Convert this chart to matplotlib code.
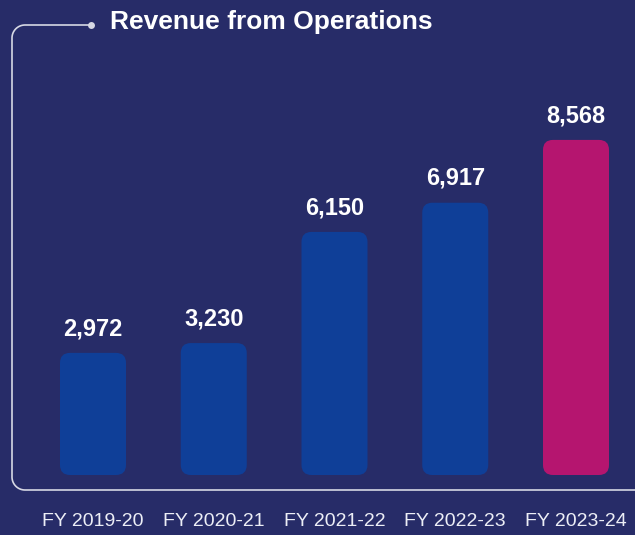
#!/usr/bin/env python3
"""Revenue from Operations bar chart (FY 2019-20 to FY 2023-24)."""

import matplotlib
matplotlib.use("Agg")
import matplotlib.pyplot as plt
import numpy as np
from matplotlib.patches import FancyBboxPatch

plt.rcParams["font.family"] = ["Liberation Sans", "DejaVu Sans"]

years = ["FY 2019-20", "FY 2020-21", "FY 2021-22", "FY 2022-23", "FY 2023-24"]
revenue = [2972, 3230, 6150, 6917, 8568]
value_labels = ["2,972", "3,230", "6,150", "6,917", "8,568"]
highlight = "FY 2023-24"

BG = "#272c68"
BLUE = "#0f3f98"
MAGENTA = "#b5156f"
LINE = "#d6d8e4"

W, H = 635, 535
fig = plt.figure(figsize=(W / 100, H / 100), dpi=100, facecolor=BG)

# bar axes: bars start at pixel row 475, value zero sits a little higher
base_px = 475
zero_px = 466
ax = fig.add_axes([0, (H - base_px) / H, 1, base_px / H])
ax.set_facecolor("none")
px_per_x = 120.75
px_per_y = 0.03806
y_bottom = -(base_px - zero_px) / px_per_y
ax.set_xlim(-93 / px_per_x, 4 + (W - 576) / px_per_x)
ax.set_ylim(y_bottom, y_bottom + base_px / px_per_y)
ax.axis("off")

bar_w = 66 / px_per_x
aspect = (1 / px_per_y) / (1 / px_per_x)
for i, (yr, val, lab) in enumerate(zip(years, revenue, value_labels)):
    color = MAGENTA if yr == highlight else BLUE
    ax.add_patch(FancyBboxPatch((i - bar_w / 2, y_bottom), bar_w, val - y_bottom,
                                boxstyle=f"round,pad=0,rounding_size={10 / px_per_x}",
                                mutation_aspect=aspect, facecolor=color, edgecolor="none"))
    ax.annotate(lab, (i, val), xytext=(0, 17.5), textcoords="offset points",
                ha="center", va="center", color="white", fontsize=17, fontweight="bold")

# overlay in pixel coordinates for the frame, title and year labels
ov = fig.add_axes([0, 0, 1, 1])
ov.set_xlim(0, W)
ov.set_ylim(H, 0)
ov.axis("off")
ov.patch.set_alpha(0)

r = 13
t = np.linspace(0, np.pi / 2, 20)
xs = [91, 12 + r]
ys = [25, 25]
xs += list(12 + r - r * np.sin(t))
ys += list(25 + r - r * np.cos(t))
xs += [12, 12]
ys += [25 + r, 490 - r]
xs += list(12 + r - r * np.cos(t))
ys += list(490 - r + r * np.sin(t))
xs += [W]
ys += [490]
ov.plot(xs, ys, color=LINE, lw=1.2, solid_capstyle="butt")
ov.plot([91], [25], "o", color=LINE, ms=5, mec="none")

ov.text(110, 22, "Revenue from Operations", color="white", fontsize=19,
        fontweight="bold", ha="left", va="center")

for i, yr in enumerate(years):
    xp = 93 + i * px_per_x
    ov.text(xp, 521, yr, color="#eceef6", fontsize=14, ha="center", va="center")

fig.savefig("out.png", dpi=100, facecolor=BG)
